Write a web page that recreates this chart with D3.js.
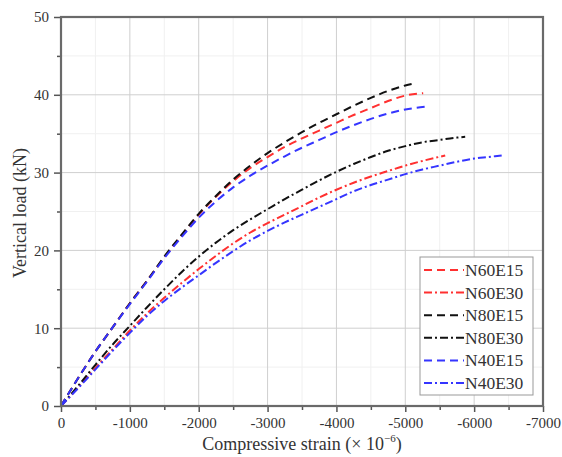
<!DOCTYPE html>
<html><head><meta charset="utf-8">
<script src="https://cdn.jsdelivr.net/npm/d3@7"></script>
<style>body{margin:0;background:#fff;}</style></head>
<body><svg id="c" width="562" height="457"></svg>
<script>
const xTicks = [0,-1000,-2000,-3000,-4000,-5000,-6000,-7000];
const yTicks = [0,10,20,30,40,50];
const seriesNames = ["N60E15","N60E30","N80E15","N80E30","N40E15","N40E30"];
const seriesColors = ["#ff3030","#ff3030","#111111","#111111","#3535ff","#3535ff"];
const seriesDash = ["dash","dashdot","dash","dashdot","dash","dashdot"];

const N60E15 = [[0,0],[-250,3.6],[-500,7],[-750,10.1],[-1000,13.2],[-1250,16.1],[-1500,19.1],[-1750,21.9],[-2000,24.6],[-2250,26.9],[-2500,28.9],[-2750,30.6],[-3000,32.0],[-3250,33.3],[-3500,34.4],[-3750,35.4],[-4000,36.4],[-4250,37.4],[-4500,38.3],[-4750,39.2],[-5000,39.9],[-5260,40.2]];
const N60E30 = [[0,0],[-250,2.4],[-500,4.9],[-750,7.3],[-1000,9.7],[-1250,11.9],[-1500,13.9],[-1750,15.8],[-2000,17.6],[-2250,19.3],[-2500,20.9],[-2750,22.3],[-3000,23.5],[-3250,24.6],[-3500,25.7],[-3750,26.8],[-4000,27.8],[-4250,28.7],[-4500,29.5],[-4750,30.2],[-5000,30.9],[-5250,31.5],[-5580,32.2]];
const N80E15 = [[0,0],[-250,3.6],[-500,7],[-750,10.1],[-1000,13.2],[-1250,16.1],[-1500,19.2],[-1750,22],[-2000,24.7],[-2250,27],[-2500,29.1],[-2750,30.9],[-3000,32.5],[-3250,33.9],[-3500,35.2],[-3750,36.4],[-4000,37.5],[-4250,38.6],[-4500,39.6],[-4750,40.5],[-5000,41.2],[-5150,41.5]];
const N80E30 = [[0,0],[-250,2.6],[-500,5.3],[-750,7.9],[-1000,10.3],[-1250,12.7],[-1500,15.0],[-1750,17.2],[-2000,19.2],[-2250,21],[-2500,22.6],[-2750,24],[-3000,25.3],[-3250,26.6],[-3500,27.8],[-3750,29.0],[-4000,30.1],[-4250,31.1],[-4500,32.0],[-4750,32.8],[-5000,33.4],[-5250,33.9],[-5500,34.2],[-5750,34.5],[-5870,34.6]];
const N40E15 = [[0,0],[-250,3.6],[-500,7],[-750,10.1],[-1000,13.1],[-1250,16],[-1500,19],[-1750,21.7],[-2000,24.2],[-2250,26.3],[-2500,28.1],[-2750,29.6],[-3000,30.9],[-3250,32.1],[-3500,33.2],[-3750,34.2],[-4000,35.2],[-4250,36.1],[-4500,36.9],[-4750,37.6],[-5000,38.1],[-5330,38.5]];
const N40E30 = [[0,0],[-250,2.3],[-500,4.7],[-750,7.1],[-1000,9.4],[-1250,11.6],[-1500,13.5],[-1750,15.2],[-2000,16.8],[-2250,18.4],[-2500,19.9],[-2750,21.3],[-3000,22.5],[-3250,23.6],[-3500,24.6],[-3750,25.6],[-4000,26.6],[-4250,27.6],[-4500,28.4],[-4750,29.1],[-5000,29.8],[-5250,30.4],[-5500,30.9],[-5750,31.4],[-6000,31.8],[-6200,32],[-6400,32.2]];
const seriesData = [N60E15,N60E30,N80E15,N80E30,N40E15,N40E30];

const FONT = "Liberation Serif";
const svg = d3.select("#c");
const L=61,R=543,T=17,B=406;
const x = d3.scaleLinear().domain([0,-7000]).range([L,R]);
const y = d3.scaleLinear().domain([0,50]).range([B,T]);
const dashArr = {dash:"8,5", dashdot:"8,3,2,3"};

// grid
const xMinor = d3.range(0,-7001,-500).filter(v=>v%1000!==0);
const yMinor = d3.range(0,51,5).filter(v=>v%10!==0);
const g = svg.append("g");
g.selectAll(".mx").data(xMinor).join("line").attr("x1",d=>x(d)).attr("x2",d=>x(d)).attr("y1",T).attr("y2",B).attr("stroke","#f0f0f0");
g.selectAll(".my").data(yMinor).join("line").attr("y1",d=>y(d)).attr("y2",d=>y(d)).attr("x1",L).attr("x2",R).attr("stroke","#f0f0f0");
g.selectAll(".gx").data(xTicks.slice(1,-1)).join("line").attr("x1",d=>x(d)).attr("x2",d=>x(d)).attr("y1",T).attr("y2",B).attr("stroke","#cfcfcf");
g.selectAll(".gy").data(yTicks.slice(1,-1)).join("line").attr("y1",d=>y(d)).attr("y2",d=>y(d)).attr("x1",L).attr("x2",R).attr("stroke","#cfcfcf");

// curves
const line = d3.line().x(d=>x(d[0])).y(d=>y(d[1])).curve(d3.curveMonotoneX);
seriesData.forEach((s,i)=>{
  svg.append("path").datum(s).attr("d",line).attr("fill","none")
    .attr("stroke",seriesColors[i]).attr("stroke-width",2)
    .attr("stroke-dasharray",dashArr[seriesDash[i]]);
});

// axes
const xAxis = d3.axisBottom(x).tickValues(xTicks).tickSize(6).tickPadding(5).tickFormat(d=>d===0?"0":String(d));
const ax = svg.append("g").attr("transform",`translate(0,${B})`).call(xAxis);
const yAxis = d3.axisLeft(y).tickValues(yTicks).tickSize(7).tickPadding(5);
const ay = svg.append("g").attr("transform",`translate(${L},0)`).call(yAxis);
[ax,ay].forEach(a=>{
  a.attr("font-family",FONT).attr("font-size",15);
  a.select(".domain").remove();
  a.selectAll(".tick line").attr("stroke","#555").attr("stroke-width",1.5);
  a.selectAll("text").attr("font-family",FONT).attr("font-size",15).attr("fill","#333");
});
svg.append("g").attr("transform",`translate(0,${B})`).call(d3.axisBottom(x).tickValues(xMinor).tickSize(4).tickFormat(""))
  .call(a=>{a.select(".domain").remove();a.selectAll("line").attr("stroke","#555").attr("stroke-width",1.5);});
svg.append("g").attr("transform",`translate(${L},0)`).call(d3.axisLeft(y).tickValues(yMinor).tickSize(4).tickFormat(""))
  .call(a=>{a.select(".domain").remove();a.selectAll("line").attr("stroke","#555").attr("stroke-width",1.5);});

// frame
svg.append("rect").attr("x",L).attr("y",T).attr("width",R-L).attr("height",B-T)
  .attr("fill","none").attr("stroke","#6a6a6a").attr("stroke-width",2.2);

// axis titles
const xt = svg.append("text").attr("x",302).attr("y",450).attr("text-anchor","middle")
  .attr("font-family",FONT).attr("font-size",18).attr("fill","#333");
xt.append("tspan").text("Compressive strain (× 10");
xt.append("tspan").attr("font-size",11).attr("dy",-8).text("−6");
xt.append("tspan").attr("dy",8).text(")");
svg.append("text").attr("transform","translate(26,213) rotate(-90)").attr("text-anchor","middle")
  .attr("font-family",FONT).attr("font-size",18).attr("fill","#333").text("Vertical load (kN)");

// legend
const lg = svg.append("g");
lg.append("rect").attr("x",420).attr("y",257).attr("width",113).attr("height",138).attr("fill","#fff").attr("stroke","#999").attr("stroke-width",1);
seriesNames.forEach((n,i)=>{
  const yy = 270 + i*22.6;
  lg.append("line").attr("x1",424).attr("x2",464).attr("y1",yy).attr("y2",yy)
    .attr("stroke",seriesColors[i]).attr("stroke-width",2).attr("stroke-dasharray",dashArr[seriesDash[i]]);
  lg.append("text").attr("x",465).attr("y",yy+6).attr("font-family",FONT).attr("font-size",17.5).attr("fill","#333").text(n);
});
</script></body></html>
